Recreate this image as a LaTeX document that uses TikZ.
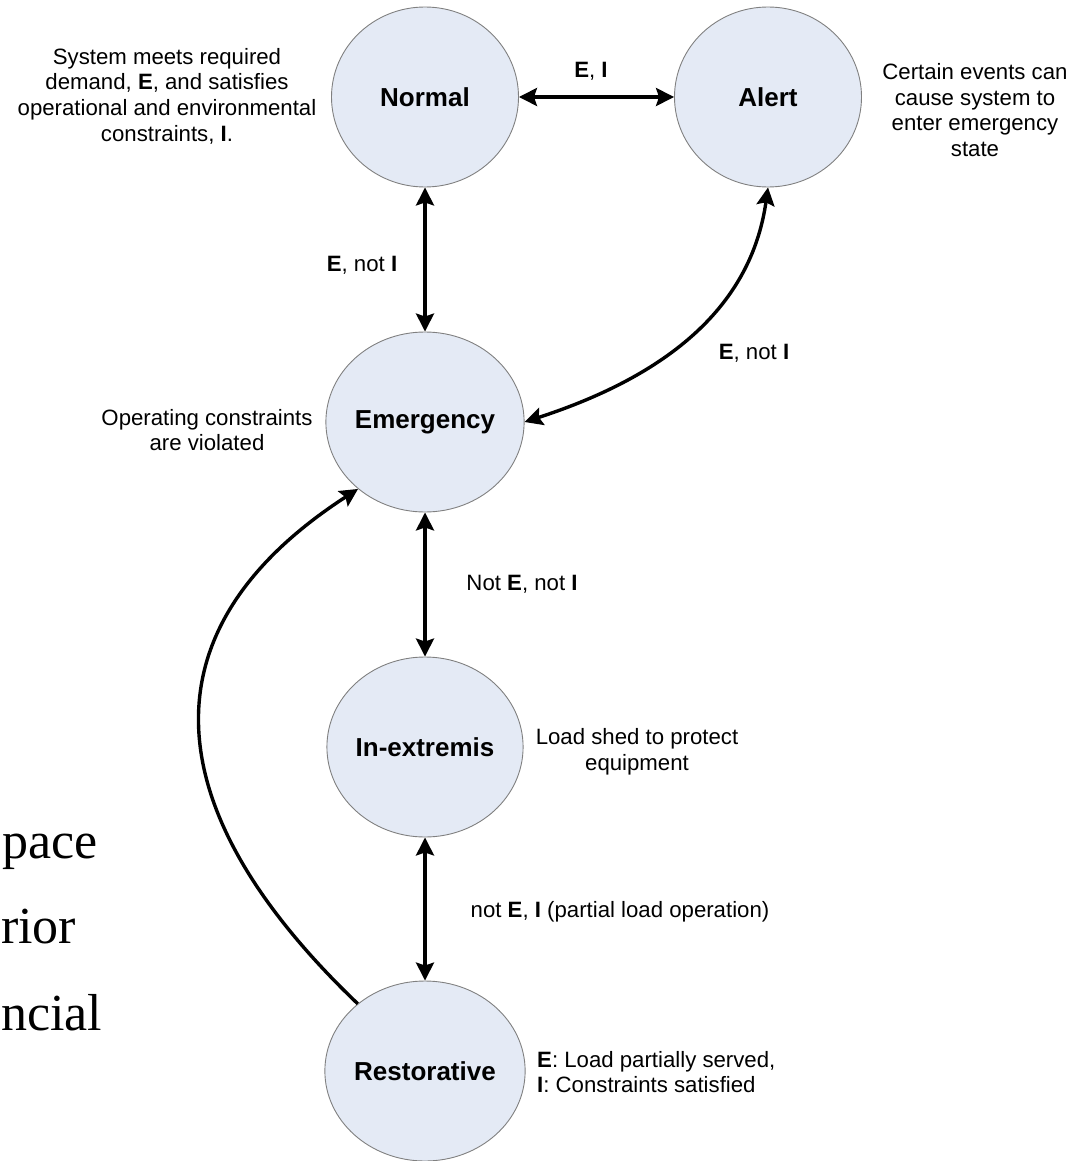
\documentclass[tikz,border=0pt]{standalone}
\usepackage{fontspec}
\setmainfont{Liberation Sans}
\newfontfamily\serifface{Liberation Serif}
\usetikzlibrary{shapes.geometric,arrows.meta}
\definecolor{statefill}{RGB}{228,234,245}
\definecolor{stateline}{RGB}{128,128,128}
\tikzset{
  state/.style={ellipse,draw=stateline,line width=0.9pt,fill=statefill,
    minimum width=187pt,minimum height=180pt,inner sep=0pt,
    font=\fontsize{26}{30}\selectfont\bfseries},
  note/.style={align=center,inner sep=0pt,font=\fontsize{22.2}{25.7}\selectfont},
  conn/.style={line width=3.4pt,black},
  dbl/.style={conn,{Stealth[length=18pt,width=18pt,inset=3pt]}-{Stealth[length=18pt,width=18pt,inset=3pt]}},
  sgl/.style={conn,-{Stealth[length=18pt,width=18pt,inset=3pt]}},
  bigserif/.style={anchor=base west,inner sep=0pt,font=\serifface\fontsize{52}{60}\selectfont}
}
\begin{document}
\begin{tikzpicture}[x=1pt,y=1pt]
\useasboundingbox (0,0) rectangle (1077,-1161);
% stray slide text
\node[bigserif] (s1) at (2,-858) {pace};
\node[bigserif] (s2) at (1,-943) {rior};
\node[bigserif] (s3) at (1,-1030) {ncial};
% states
\node[state] (nor) at (425,-97) {Normal};
\node[state] (ale) at (768,-97) {Alert};
\node[state] (eme) at (425,-422) {Emergency};
\node[state] (ext) at (425,-747) {In-extremis};
\node[state] (res) at (425,-1071) {Restorative};
% connectors
\draw[dbl] (nor.east) -- (ale.west);
\draw[dbl] (nor.south) -- (eme.north);
\draw[dbl] (eme.east) to[out=18,in=-98] (ale.south);
\draw[dbl] (eme.south) -- (ext.north);
\draw[dbl] (ext.south) -- (res.north);
\draw[sgl] (res.135) .. controls (155,-810) and (140,-630) .. (eme.225);
% labels
\node[note] (l1) at (591,-71) {\textbf{E}, \textbf{I}};
\node[note] (l2) at (362,-265) {\textbf{E}, not \textbf{I}};
\node[note] (l3) at (754,-353) {\textbf{E}, not \textbf{I}};
\node[note] (l4) at (522,-584) {Not \textbf{E}, not \textbf{I}};
\node[note] (l5) at (620,-912) {not \textbf{E}, \textbf{I} (partial load operation)};
% annotations
\node[note] (a1) at (167,-96) {System meets required\\demand, \textbf{E}, and satisfies\\operational and environmental\\constraints, \textbf{I}.};
\node[note] (a2) at (975,-110) {Certain events can\\cause system to\\enter emergency\\state};
\node[note] (a3) at (207,-430) {Operating constraints\\are violated};
\node[note] (a4) at (637,-752) {Load shed to protect\\equipment};
\node[note,align=left,anchor=west] (a5) at (537,-1072) {\textbf{E}: Load partially served,\\\textbf{I}: Constraints satisfied};
\end{tikzpicture}
\end{document}
